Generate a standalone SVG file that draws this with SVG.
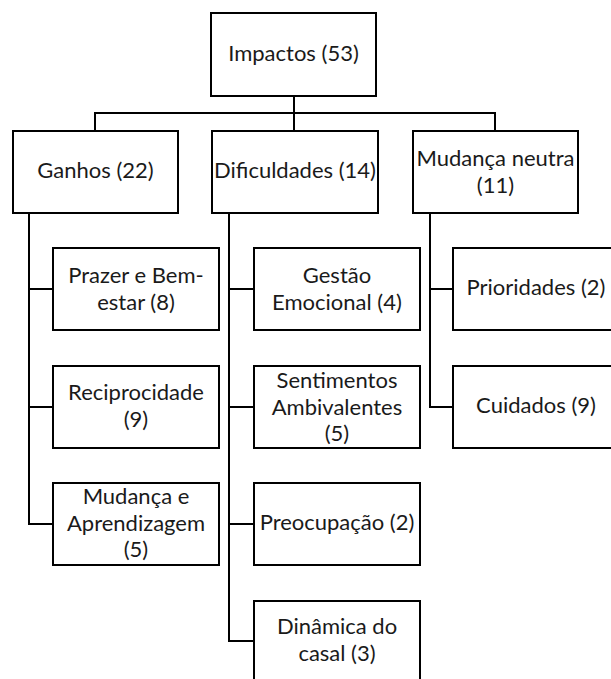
<svg xmlns="http://www.w3.org/2000/svg" width="611" height="679" viewBox="0 0 611 679">
<style>
.box{fill:#fff;stroke:#000;stroke-width:2}
.lbl{font-family:Lato,"Open Sans","Liberation Sans",sans-serif;font-size:22px;fill:#1a1a1a;text-anchor:middle}
.con{fill:none;stroke:#000;stroke-width:2}
</style>
<rect width="611" height="679" fill="#fff"/>
<g id="connectors">
<path class="con" d="M294 96V113M95 131V113H495V131M294 113V131"/>
<path class="con" d="M29 213V524H53M29 289H53M29 407H53"/>
<path class="con" d="M229 213V641H254M229 289H254M229 407H254M229 524H254"/>
<path class="con" d="M430 213V407H453M430 289H453"/>
</g>
<g id="impactos"><rect class="box" x="211" y="13" width="165" height="83"/><text class="lbl" x="293.5" y="61">Impactos (53)</text></g>
<g id="ganhos"><rect class="box" x="13" y="131" width="165" height="82"/><text class="lbl" x="95.5" y="178">Ganhos (22)</text></g>
<g id="dificuldades"><rect class="box" x="212" y="131" width="166" height="82"/><text class="lbl" x="295" y="178">Dificuldades (14)</text></g>
<g id="mudanca-neutra"><rect class="box" x="413" y="131" width="165" height="82"/><text class="lbl" x="495.5" y="165.5">Mudança neutra</text><text class="lbl" x="495.5" y="192.5">(11)</text></g>
<g id="prazer"><rect class="box" x="53" y="248" width="166" height="82"/><text class="lbl" x="136" y="282.5">Prazer e Bem-</text><text class="lbl" x="136" y="309.5">estar (8)</text></g>
<g id="reciprocidade"><rect class="box" x="53" y="366" width="166" height="82"/><text class="lbl" x="136" y="400">Reciprocidade</text><text class="lbl" x="136" y="427">(9)</text></g>
<g id="mudanca-aprendizagem"><rect class="box" x="53" y="483" width="166" height="82"/><text class="lbl" x="136" y="504">Mudança e</text><text class="lbl" x="136" y="530.5">Aprendizagem</text><text class="lbl" x="136" y="557">(5)</text></g>
<g id="gestao"><rect class="box" x="254" y="248" width="166" height="82"/><text class="lbl" x="337" y="282.5">Gestão</text><text class="lbl" x="337" y="309.5">Emocional (4)</text></g>
<g id="sentimentos"><rect class="box" x="254" y="366" width="166" height="82"/><text class="lbl" x="337" y="388">Sentimentos</text><text class="lbl" x="337" y="414.5">Ambivalentes</text><text class="lbl" x="337" y="441">(5)</text></g>
<g id="preocupacao"><rect class="box" x="254" y="483" width="166" height="82"/><text class="lbl" x="337" y="530">Preocupação (2)</text></g>
<g id="dinamica"><rect class="box" x="254" y="601" width="166" height="82"/><text class="lbl" x="337" y="634">Dinâmica do</text><text class="lbl" x="337" y="661">casal (3)</text></g>
<g id="prioridades"><rect class="box" x="453" y="248" width="166" height="82"/><text class="lbl" x="536" y="295">Prioridades (2)</text></g>
<g id="cuidados"><rect class="box" x="453" y="366" width="166" height="82"/><text class="lbl" x="536" y="413">Cuidados (9)</text></g>
</svg>
